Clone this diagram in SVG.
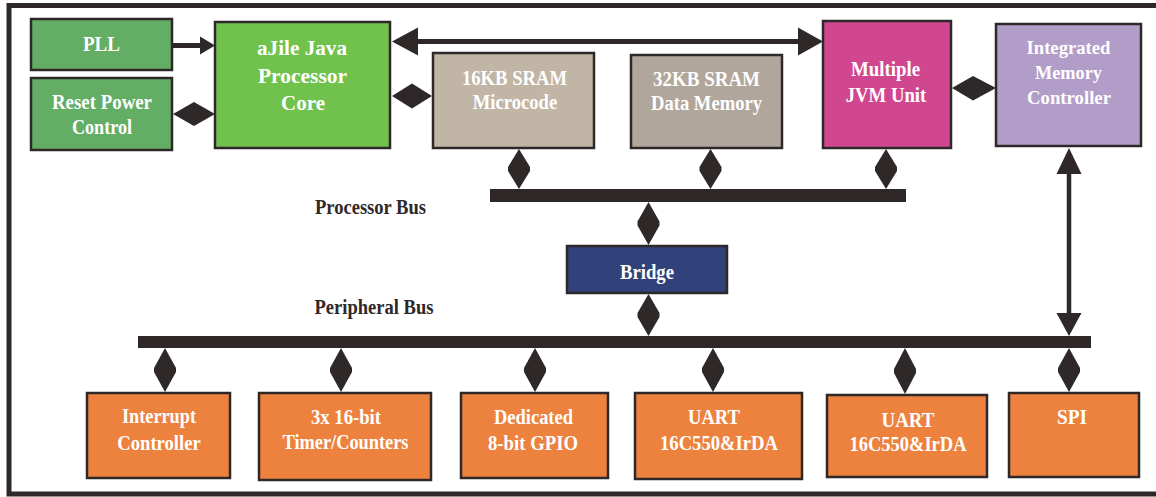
<svg xmlns="http://www.w3.org/2000/svg" width="1156" height="497" viewBox="0 0 1156 497">
<style>
.frame{fill:none;stroke:#2f2829;stroke-width:5}
.box{stroke:#2f2829;stroke-width:2.5}
.g1{fill:#63ad65}
.g2{fill:#70c24c}
.s1{fill:#c1b5a5}
.s2{fill:#b1a69c}
.jvm{fill:#d1478f}
.imc{fill:#b29cc8}
.br{fill:#31427a}
.or{fill:#ed823e}
text{font-family:"Liberation Serif","Times New Roman",serif;font-weight:bold;text-anchor:middle}
.t{fill:#ffffff;font-size:20px}
.ts{fill:#ffffff;font-size:18px}
.lab{fill:#2f2829;font-size:20px}
.bus{fill:#2f2829}
.ln{stroke:#2f2829;stroke-width:5;fill:none}
.ln2{stroke:#2f2829;stroke-width:4.5;fill:none}
.hd{fill:#2f2829}
</style>
<rect class="frame" x="9" y="5.5" width="1160" height="488.5"/>

<g id="connectors">
  <rect class="bus" x="490" y="189" width="416" height="13"/>
  <rect class="bus" x="138" y="336" width="953" height="12"/>
  <line class="ln" x1="173" y1="45.5" x2="202" y2="45.5"/>
  <polygon class="hd" points="200,36.5 215,45.5 200,54.5"/>
  <line class="ln" x1="416" y1="41.5" x2="800" y2="41.5"/>
  <polygon class="hd" points="392,41.5 418,27.5 418,55.5"/>
  <polygon class="hd" points="823,41.5 798,27.5 798,55.5"/>
  <polygon class="hd" points="173,114 194,102 215,114 194,126"/>
  <polygon class="hd" points="392,96 412,83.5 432,96 412,108.5"/>
  <polygon class="hd" points="952,88 973,76 996,88 973,100.5"/>
  <polygon class="hd" points="519,149 530,167 530,171 519,189 508,171 508,167"/>
  <polygon class="hd" points="710.5,149 721.5,167 721.5,171 710.5,189 699.5,171 699.5,167"/>
  <polygon class="hd" points="886,149 897,167 897,171 886,189 875,171 875,167"/>
  <polygon class="hd" points="648.5,202 659.5,221.5 659.5,225.5 648.5,245 637.5,225.5 637.5,221.5"/>
  <polygon class="hd" points="648.5,294 659.5,313 659.5,317 648.5,336 637.5,317 637.5,313"/>
  <line class="ln2" x1="1069" y1="172" x2="1069" y2="315"/>
  <polygon class="hd" points="1069,148 1056.5,174 1081.5,174"/>
  <polygon class="hd" points="1069,336 1056.5,313 1081.5,313"/>
  <polygon class="hd" points="165,348 176,368 176,372 165,392 154,372 154,368"/>
  <polygon class="hd" points="341,348 352,368 352,372 341,392 330,372 330,368"/>
  <polygon class="hd" points="535,348 546,368 546,372 535,392 524,372 524,368"/>
  <polygon class="hd" points="713,348 724,368 724,372 713,392 702,372 702,368"/>
  <polygon class="hd" points="905,348 916,369 916,373 905,394 894,373 894,369"/>
  <polygon class="hd" points="1069,348 1080,368 1080,372 1069,392 1058,372 1058,368"/>
</g>

<text class="lab" x="370.5" y="214" textLength="111" lengthAdjust="spacingAndGlyphs">Processor Bus</text>
<text class="lab" x="374" y="314" textLength="119" lengthAdjust="spacingAndGlyphs">Peripheral Bus</text>

<g id="pll">
  <rect class="box g1" x="31" y="19" width="141" height="51"/>
  <text class="t" x="101.5" y="51" textLength="37" lengthAdjust="spacingAndGlyphs">PLL</text>
</g>
<g id="reset">
  <rect class="box g1" x="31" y="78" width="141" height="72"/>
  <text class="t" x="102" y="109" textLength="100" lengthAdjust="spacingAndGlyphs">Reset Power</text>
  <text class="t" x="102" y="134" textLength="60" lengthAdjust="spacingAndGlyphs">Control</text>
</g>
<g id="ajile">
  <rect class="box g2" x="215" y="22" width="175" height="126"/>
  <text class="t" x="302" y="55" textLength="90" lengthAdjust="spacingAndGlyphs" style="font-size:22px">aJile Java</text>
  <text class="t" x="302.5" y="82.5" textLength="89" lengthAdjust="spacingAndGlyphs" style="font-size:22px">Processor</text>
  <text class="t" x="303" y="109.5" textLength="44" lengthAdjust="spacingAndGlyphs" style="font-size:22px">Core</text>
</g>
<g id="sram16">
  <rect class="box s1" x="433" y="53" width="161" height="95"/>
  <text class="t" x="514.5" y="85" textLength="105" lengthAdjust="spacingAndGlyphs">16KB SRAM</text>
  <text class="t" x="515" y="108.5" textLength="84.5" lengthAdjust="spacingAndGlyphs">Microcode</text>
</g>
<g id="sram32">
  <rect class="box s2" x="631" y="55" width="151" height="93"/>
  <text class="t" x="706.5" y="86" textLength="107" lengthAdjust="spacingAndGlyphs">32KB SRAM</text>
  <text class="t" x="706.5" y="110" textLength="111" lengthAdjust="spacingAndGlyphs">Data Memory</text>
</g>
<g id="jvm">
  <rect class="box jvm" x="823" y="21" width="128" height="127"/>
  <text class="t" x="885.5" y="76" textLength="69" lengthAdjust="spacingAndGlyphs">Multiple</text>
  <text class="t" x="886" y="101.5" textLength="80.5" lengthAdjust="spacingAndGlyphs">JVM Unit</text>
</g>
<g id="imc">
  <rect class="box imc" x="996" y="24" width="145" height="122"/>
  <text class="ts" x="1068.5" y="53.5" textLength="84" lengthAdjust="spacingAndGlyphs">Integrated</text>
  <text class="ts" x="1068.5" y="79" textLength="67" lengthAdjust="spacingAndGlyphs">Memory</text>
  <text class="ts" x="1069" y="104" textLength="84" lengthAdjust="spacingAndGlyphs">Controller</text>
</g>
<g id="bridge">
  <rect class="box br" x="567" y="246" width="160" height="47"/>
  <text class="t" x="647" y="278.5" textLength="54" lengthAdjust="spacingAndGlyphs">Bridge</text>
</g>
<g id="interrupt">
  <rect class="box or" x="87" y="393" width="143" height="85"/>
  <text class="t" x="159" y="422.5" textLength="74" lengthAdjust="spacingAndGlyphs">Interrupt</text>
  <text class="t" x="159" y="449.5" textLength="83.5" lengthAdjust="spacingAndGlyphs">Controller</text>
</g>
<g id="timer">
  <rect class="box or" x="259" y="393" width="172" height="87"/>
  <text class="t" x="346" y="424" textLength="70" lengthAdjust="spacingAndGlyphs">3x 16-bit</text>
  <text class="t" x="345.5" y="449" textLength="126" lengthAdjust="spacingAndGlyphs">Timer/Counters</text>
</g>
<g id="gpio">
  <rect class="box or" x="461" y="393" width="147" height="85"/>
  <text class="t" x="533.5" y="424" textLength="79" lengthAdjust="spacingAndGlyphs">Dedicated</text>
  <text class="t" x="533" y="449.5" textLength="90" lengthAdjust="spacingAndGlyphs">8-bit GPIO</text>
</g>
<g id="uart1">
  <rect class="box or" x="635" y="393" width="167" height="86"/>
  <text class="t" x="714" y="424" textLength="52" lengthAdjust="spacingAndGlyphs">UART</text>
  <text class="t" x="719" y="450" textLength="118" lengthAdjust="spacingAndGlyphs">16C550&amp;IrDA</text>
</g>
<g id="uart2">
  <rect class="box or" x="827" y="395" width="160" height="82"/>
  <text class="t" x="908" y="426.5" textLength="53" lengthAdjust="spacingAndGlyphs">UART</text>
  <text class="t" x="908" y="451" textLength="117" lengthAdjust="spacingAndGlyphs">16C550&amp;IrDA</text>
</g>
<g id="spi">
  <rect class="box or" x="1009" y="393" width="130" height="84"/>
  <text class="t" x="1072" y="424" textLength="30" lengthAdjust="spacingAndGlyphs">SPI</text>
</g>
</svg>
